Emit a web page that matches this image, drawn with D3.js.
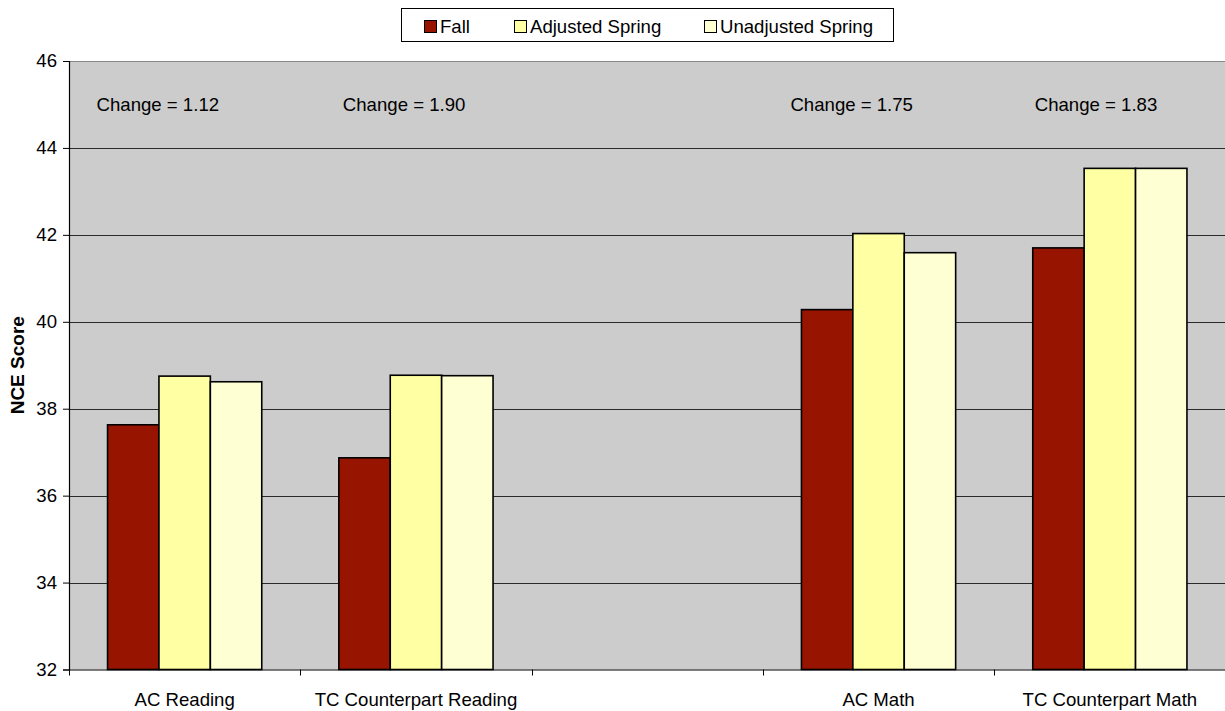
<!DOCTYPE html>
<html>
<head>
<meta charset="utf-8">
<script src="https://cdn.jsdelivr.net/npm/d3@7"></script>
<style>
  html, body { margin: 0; padding: 0; background: #fff; }
  svg { display: block; font-family: "Liberation Sans", Arial, sans-serif; }
</style>
</head>
<body>
<svg id="chart" width="1225" height="711"></svg>
<script>
// Category slots along the x axis (the blank slot separates reading and math)
const categories = ["AC Reading", "TC Counterpart Reading", "", "AC Math", "TC Counterpart Math"];
const seriesNames = ["Fall", "Adjusted Spring", "Unadjusted Spring"];
const fall = [37.63, 36.87, null, 40.28, 41.70];
const adjustedSpring = [38.75, 38.77, null, 42.03, 43.53];
const unadjustedSpring = [38.62, 38.76, null, 41.59, 43.53];
const changeLabels = ["Change = 1.12", "Change = 1.90", null, "Change = 1.75", "Change = 1.83"];
const yTicks = [32, 34, 36, 38, 40, 42, 44, 46];

const colors = ["#961400", "#FFFFA3", "#FFFFD4"];
const seriesValues = [fall, adjustedSpring, unadjustedSpring];
const FONT = "Liberation Sans, Arial, sans-serif";
const FS = 18.6;

const svg = d3.select("#chart");
const plot = { left: 69, top: 61, right: 1225.5, bottom: 669.5 };

const x = d3.scaleBand()
  .domain(d3.range(categories.length))
  .range([plot.left, plot.right])
  .paddingInner(0).paddingOuter(0);

const barGroupInner = d3.scaleBand()
  .domain(d3.range(seriesNames.length))
  .range([0, x.bandwidth()])
  .paddingOuter(0.75).paddingInner(0);

const y = d3.scaleLinear().domain([32, 46]).range([plot.bottom, plot.top]);

// plot background
svg.append("rect")
  .attr("x", plot.left).attr("y", plot.top)
  .attr("width", plot.right - plot.left).attr("height", plot.bottom - plot.top)
  .attr("fill", "#CCCCCC");

// horizontal gridlines
svg.append("g").selectAll("line")
  .data(yTicks.filter(t => t > 32))
  .join("line")
  .attr("x1", plot.left).attr("x2", plot.right)
  .attr("y1", d => Math.round(y(d)) + 0.5).attr("y2", d => Math.round(y(d)) + 0.5)
  .attr("stroke", d => d === 46 ? "#8a8a8a" : "#2a2a2a")
  .attr("stroke-width", 1);

// bars
const groups = svg.append("g").selectAll("g")
  .data(categories.map((c, i) => i))
  .join("g")
  .attr("transform", i => `translate(${x(i)},0)`);

groups.selectAll("rect")
  .data(i => seriesValues.map((vals, s) => ({ s, v: vals[i] })).filter(d => d.v != null))
  .join("rect")
  .attr("x", d => barGroupInner(d.s))
  .attr("width", barGroupInner.bandwidth())
  .attr("y", d => y(d.v))
  .attr("height", d => y(32) - y(d.v))
  .attr("fill", d => colors[d.s])
  .attr("stroke", "#000")
  .attr("stroke-width", 1.6);

// change annotations
const labelShift = [-11, 4, 0, -11, 2];
svg.append("g").selectAll("text")
  .data(changeLabels.map((t, i) => ({ t, i })).filter(d => d.t))
  .join("text")
  .attr("x", d => x(d.i) + barGroupInner(0) + labelShift[d.i])
  .attr("y", 110.5)
  .attr("font-size", FS)
  .attr("fill", "#000")
  .text(d => d.t);

// y axis
const yAxis = svg.append("g")
  .attr("transform", `translate(${plot.left},0)`)
  .call(d3.axisLeft(y).tickValues(yTicks).tickFormat(d3.format("d")).tickSize(6).tickPadding(6));
yAxis.select(".domain").attr("stroke", "#000").attr("stroke-width", 1.2);
yAxis.selectAll(".tick line").attr("stroke", "#000");
yAxis.selectAll(".tick text").attr("font-size", FS).attr("fill", "#000")
  .attr("font-family", FONT);

// x axis
const xAxis = svg.append("g")
  .attr("transform", `translate(0,${plot.bottom})`)
  .call(d3.axisBottom(x).tickSize(0).tickFormat(i => categories[i]).tickPadding(23.5));
xAxis.select(".domain").attr("stroke", "#000").attr("stroke-width", 1.2);
xAxis.selectAll(".tick text").attr("font-size", FS).attr("fill", "#000")
  .attr("font-family", FONT);
// category separators
svg.append("g").selectAll("line")
  .data(d3.range(categories.length + 1))
  .join("line")
  .attr("x1", i => Math.round(plot.left + i * x.step()) + 0.5)
  .attr("x2", i => Math.round(plot.left + i * x.step()) + 0.5)
  .attr("y1", plot.bottom).attr("y2", plot.bottom + 6)
  .attr("stroke", "#000");

// y axis title
svg.append("text")
  .attr("transform", `translate(24,${(plot.top + plot.bottom) / 2}) rotate(-90)`)
  .attr("text-anchor", "middle")
  .attr("font-size", 19)
  .attr("font-weight", "bold")
  .text("NCE Score");

// legend
const legend = svg.append("g");
legend.append("rect")
  .attr("x", 401.5).attr("y", 8.5).attr("width", 492).attr("height", 33)
  .attr("fill", "#fff").attr("stroke", "#000").attr("stroke-width", 1);
const legendX = [424, 514, 704];
const items = legend.selectAll("g.item")
  .data(seriesNames.map((n, i) => ({ n, i })))
  .join("g").attr("class", "item")
  .attr("transform", d => `translate(${legendX[d.i]},0)`);
items.append("rect")
  .attr("x", 0.5).attr("y", 20.5).attr("width", 12).attr("height", 12)
  .attr("fill", d => colors[d.i]).attr("stroke", "#000").attr("stroke-width", 1);
items.append("text")
  .attr("x", 16).attr("y", 33)
  .attr("font-size", FS)
  .text(d => d.n);
</script>
</body>
</html>
